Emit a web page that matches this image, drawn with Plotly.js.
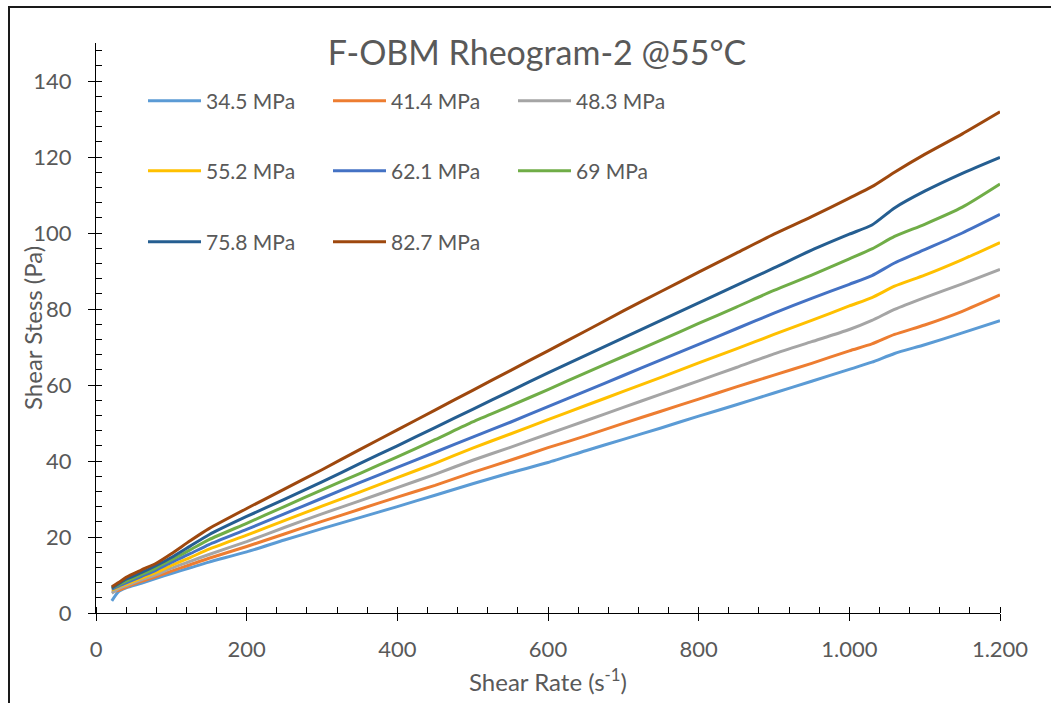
<!DOCTYPE html>
<html>
<head>
<meta charset="utf-8">
<script src="https://cdn.plot.ly/plotly-3.0.1.min.js"></script>
<style>
  html, body { margin: 0; padding: 0; background: #fff; }
  #wrap { position: relative; width: 1051px; height: 703px; overflow: hidden; }
  #chart { width: 1051px; height: 703px; }
  #frame { position: absolute; left: 8px; top: 6px; width: 1200px; height: 800px;
           border-top: 2px solid #1a1a1a; border-left: 2px solid #1a1a1a; pointer-events: none; }
</style>
</head>
<body>
<div id="wrap"><div id="chart"></div><div id="frame"></div></div>
<script>
// Shear rate (s^-1)
const shearRate = [21,30,40,60,80,100,125,150,200,250,300,350,400,450,500,550,600,650,700,750,800,850,900,950,1000,1030,1060,1100,1150,1200];

// Shear stress (Pa) per pressure
const p34_5 = [3.2,5.6,6.6,7.8,9.1,10.4,11.9,13.4,16.1,19.2,22.2,25.1,28.0,31.0,34.0,36.9,39.6,42.7,45.7,48.7,51.8,54.8,57.9,61.0,64.1,66.0,68.3,70.6,73.7,76.9];
const p41_4 = [5.6,6.0,6.8,8.3,9.6,11.0,12.7,14.4,17.5,20.8,24.1,27.3,30.5,33.6,37.0,40.2,43.5,46.6,49.9,53.1,56.3,59.5,62.6,65.7,69.0,70.8,73.3,75.8,79.4,83.7];
const p48_3 = [5.2,6.4,7.2,8.7,10.1,11.8,13.6,15.4,18.8,22.5,26.1,29.5,33.0,36.5,40.2,43.6,47.1,50.6,54.1,57.6,61.1,64.6,68.2,71.4,74.6,77.0,79.9,83.0,86.6,90.4];
const p55_2 = [6.0,6.9,7.6,9.2,10.7,12.5,14.6,16.8,20.5,24.3,28.1,31.8,35.6,39.4,43.4,47.1,50.9,54.6,58.3,62.0,65.8,69.5,73.3,77.0,80.8,83.0,86.0,88.9,93.0,97.5];
const p62_1 = [6.3,7.1,7.9,9.6,11.3,13.3,15.6,18.0,22.0,26.1,30.2,34.3,38.3,42.3,46.3,50.2,54.3,58.4,62.5,66.6,70.7,74.8,78.9,82.8,86.5,88.8,92.1,95.6,100.0,104.9];
const p69_0 = [6.6,7.4,8.4,10.1,11.9,14.0,16.6,19.3,23.6,28.0,32.4,36.7,41.1,45.6,50.3,54.5,58.8,63.2,67.5,71.8,76.2,80.5,84.9,88.9,93.2,95.8,99.1,102.3,106.8,112.9];
const p75_8 = [6.6,7.7,8.9,10.6,12.5,14.6,17.6,20.6,25.4,29.9,34.5,39.3,44.0,48.8,53.6,58.4,63.2,67.8,72.4,77.0,81.6,86.2,90.8,95.5,99.7,102.1,106.6,111.0,115.7,119.9];
const p82_7 = [6.9,8.0,9.4,11.3,13.1,15.6,19.0,22.2,27.5,32.6,37.7,43.0,48.2,53.4,58.6,63.8,69.0,74.2,79.5,84.6,89.7,94.7,99.7,104.3,109.2,112.2,116.0,120.7,126.1,131.9];

const seriesNames = ['34.5 MPa','41.4 MPa','48.3 MPa','55.2 MPa','62.1 MPa','69 MPa','75.8 MPa','82.7 MPa'];
const seriesValues = [p34_5,p41_4,p48_3,p55_2,p62_1,p69_0,p75_8,p82_7];
const seriesColors = ['#5B9BD5','#ED7D31','#A5A5A5','#FFC000','#4472C4','#70AD47','#255E91','#9E480E'];
const seriesLegend = ['legend','legend','legend','legend2','legend2','legend2','legend3','legend3'];

const chartTitle = 'F-OBM Rheogram-2 @55°C';
const xTitle = 'Shear Rate (s<sup>-1</sup>)';
const yTitle = 'Shear Stess (Pa)';

const FONT = 'Lato, "Open Sans", sans-serif';
const GREY = '#595959';

const traces = seriesValues.map((vals, i) => ({
  type: 'scatter', mode: 'lines',
  x: shearRate, y: vals, name: seriesNames[i],
  line: {color: seriesColors[i], width: 3, shape: 'spline', smoothing: 0.6},
  legend: seriesLegend[i]
}));

const W = 1051, H = 703;
const M = {l: 96, r: 51, t: 43, b: 90};
function legendAt(px, py) {
  return {
    orientation: 'h', xref: 'container', yref: 'container',
    x: px / W, y: 1 - py / H, xanchor: 'left', yanchor: 'middle',
    entrywidth: 117, entrywidthmode: 'pixels', itemwidth: 53,
    font: {family: FONT, size: 21, color: GREY},
    bgcolor: 'rgba(0,0,0,0)', borderwidth: 0, traceorder: 'normal'
  };
}

const axisCommon = {
  showgrid: false, zeroline: false, showline: true, linecolor: '#000', linewidth: 1,
  ticks: 'outside', ticklen: 7, tickwidth: 1, tickcolor: '#000',
  tickfont: {family: FONT, size: 22, color: GREY}
};

const plotW = W - M.l - M.r;
const layout = {
  width: W, height: H,
  margin: {l: M.l, r: M.r, t: M.t, b: M.b, autoexpand: false},
  paper_bgcolor: '#fff', plot_bgcolor: '#fff',
  separators: ',.',
  showlegend: true,
  title: {text: chartTitle, x: 537 / W, xref: 'container', xanchor: 'center',
          y: 1 - 53 / H, yref: 'container', yanchor: 'middle',
          font: {family: FONT, size: 34, color: GREY}},
  xaxis: Object.assign({}, axisCommon, {
    range: [0, 1200], dtick: 200, tick0: 0, separatethousands: true,
    minor: {dtick: 40, ticks: 'inside', ticklen: 6, tickcolor: '#000', tickwidth: 1},
    ticklabelstandoff: 10,
    title: {text: xTitle, standoff: 12, font: {family: FONT, size: 24, color: GREY}},
    automargin: false
  }),
  yaxis: Object.assign({}, axisCommon, {
    range: [0, 150], dtick: 20, tick0: 0,
    minor: {dtick: 4, ticks: 'inside', ticklen: 6, tickcolor: '#000', tickwidth: 1},
    ticklabelstandoff: 12,
    automargin: false
  }),
  xaxis2: {overlaying: 'x', anchor: 'y', range: [0, 1200], dtick: 200, tick0: 0,
           showgrid: false, zeroline: false, showline: false, showticklabels: false,
           ticks: 'inside', ticklen: 7, tickwidth: 1, tickcolor: '#000', side: 'bottom'},
  yaxis2: {overlaying: 'y', anchor: 'x', range: [0, 150], dtick: 20, tick0: 0,
           showgrid: false, zeroline: false, showline: false, showticklabels: false,
           ticks: 'inside', ticklen: 7, tickwidth: 1, tickcolor: '#000', side: 'left'},
  annotations: [{
    text: yTitle, textangle: -90, showarrow: false,
    xref: 'paper', yref: 'paper', x: (32 - M.l) / plotW, y: 0.5,
    xanchor: 'center', yanchor: 'middle',
    font: {family: FONT, size: 24, color: GREY}
  }],
  legend: legendAt(143, 101),
  legend2: legendAt(143, 171),
  legend3: legendAt(143, 242)
};

Plotly.newPlot('chart', traces, layout, {displayModeBar: false, staticPlot: true});
</script>
</body>
</html>
